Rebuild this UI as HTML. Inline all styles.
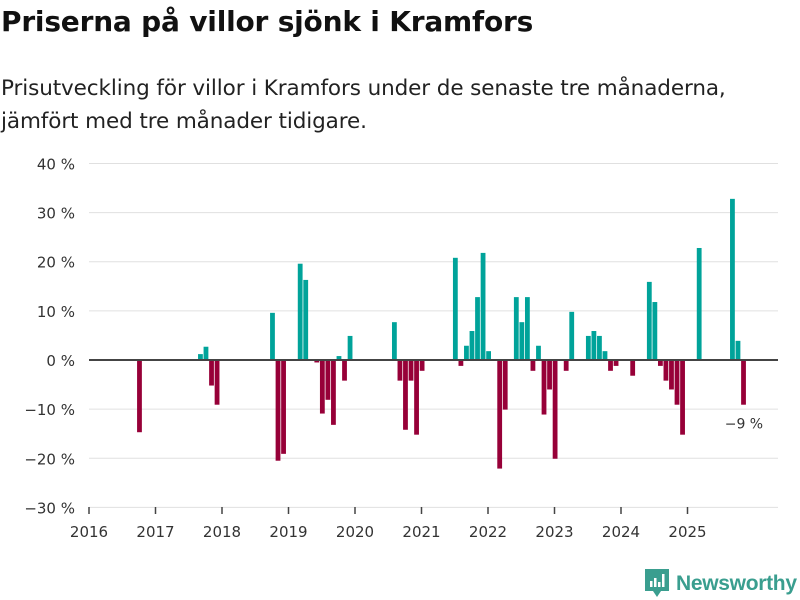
<!DOCTYPE html>
<html><head><meta charset="utf-8"><style>
body{margin:0;width:800px;height:600px;background:#fff;font-family:"DejaVu Sans","Liberation Sans",sans-serif;overflow:hidden;position:relative}
#title{position:absolute;left:1px;top:5px;font-size:28px;font-weight:bold;color:#111;margin:0;letter-spacing:-0.2px}
#sub{position:absolute;left:1px;top:72px;font-size:21.5px;color:#222;line-height:33px;margin:0;letter-spacing:-0.1px}
svg{position:absolute;left:0;top:0}
</style></head><body>
<h1 id="title">Priserna på villor sjönk i Kramfors</h1>
<p id="sub">Prisutveckling för villor i Kramfors under de senaste tre månaderna,<br>jämfört med tre månader tidigare.</p>
<svg id="chart" width="800" height="600"></svg>
<script>
const months=[9,20,21,22,23,33,34,35,38,39,41,42,43,44,45,46,47,55,56,57,58,59,60,66,67,68,69,70,71,72,74,75,77,78,79,80,81,82,83,84,86,87,90,91,92,93,94,95,98,101,102,103,104,105,106,107,110,116,117,118];
const values=[-14.7,1.2,2.7,-5.2,-9.1,9.6,-20.5,-19.1,19.6,16.3,-0.5,-10.9,-8.1,-13.2,0.8,-4.2,4.9,7.7,-4.2,-14.2,-4.2,-15.2,-2.2,20.8,-1.2,2.9,5.9,12.8,21.8,1.8,-22.1,-10.1,12.8,7.7,12.8,-2.2,2.9,-11.1,-6,-20.1,-2.2,9.8,4.9,5.9,4.9,1.8,-2.2,-1.2,-3.2,15.9,11.8,-1.2,-4.2,-6,-9.1,-15.2,22.8,32.8,3.9,-9.1];
const yTicks=[40,30,20,10,0,-10,-20,-30];
const years=[2016,2017,2018,2019,2020,2021,2022,2023,2024,2025];
const NS="http://www.w3.org/2000/svg";
const svg=document.getElementById('chart');
const x0=89,pxYear=66.5,xEnd=778;
const xs=m=>x0+m*pxYear/12;
const ys=v=>360-v*4.913;
const FF='DejaVu Sans, Liberation Sans, sans-serif';
function mk(t,a){const e=document.createElementNS(NS,t);for(const k in a)e.setAttribute(k,a[k]);svg.appendChild(e);return e;}
yTicks.forEach(v=>{
  const g=mk('line',{x1:x0,x2:xEnd,y1:ys(v),y2:ys(v),stroke:'#e0e0e0','stroke-width':1});
  
  
  const t=mk('text',{x:75,y:ys(v)+6,'text-anchor':'end','font-size':15,fill:'#333','font-family':FF});
  t.textContent=(v<0?'\u2212'+(-v):v)+' %';
  
  
});
years.forEach((yr,i)=>{
  const x=x0+i*pxYear;
  const tk=mk('line',{x1:x,x2:x,y1:507,y2:514,stroke:'#444','stroke-width':1.5});
  
  
  const t=mk('text',{x:x,y:537,'text-anchor':'middle','font-size':15,fill:'#333','font-family':FF});
  t.textContent=yr;
  
  
});
months.forEach((m,i)=>{
  const v=values[i];
  const top=Math.min(ys(v),ys(0)),h=Math.abs(ys(v)-ys(0));
  const r=mk('rect',{x:xs(m)-1.8,y:top,width:4.8,height:h,fill:v>=0?'#00a39a':'#970038'});
  
  
});
const z=mk('line',{x1:x0,x2:xEnd,y1:ys(0),y2:ys(0),stroke:'#444','stroke-width':2});


const last=months.length-1;
const lab=mk('text',{x:xs(months[last])+1,y:ys(values[last])+24,'text-anchor':'middle','font-size':14,fill:'#333','font-family':FF});
lab.textContent='\u2212'+Math.round(-values[last])+' %';


</script>
<div style="position:absolute;left:645px;top:570px;height:28px;display:flex;align-items:center">
<svg width="24" height="30" viewBox="0 0 24 30" style="position:static"><path d="M0 0h24v22h-8l-4 6-4-6H0z" fill="#3a9e8f"/><rect x="5" y="12" width="2.5" height="6" fill="#fff"/><rect x="9" y="9" width="2.5" height="9" fill="#fff"/><rect x="13" y="13" width="2.5" height="5" fill="#fff"/><rect x="17" y="5" width="2.5" height="13" fill="#fff"/></svg>
<span style="margin-left:7px;font-family:'Liberation Sans',sans-serif;font-size:21px;color:#3a9e8f;font-weight:bold;letter-spacing:-0.3px">Newsworthy</span>
</div>
</body></html>
